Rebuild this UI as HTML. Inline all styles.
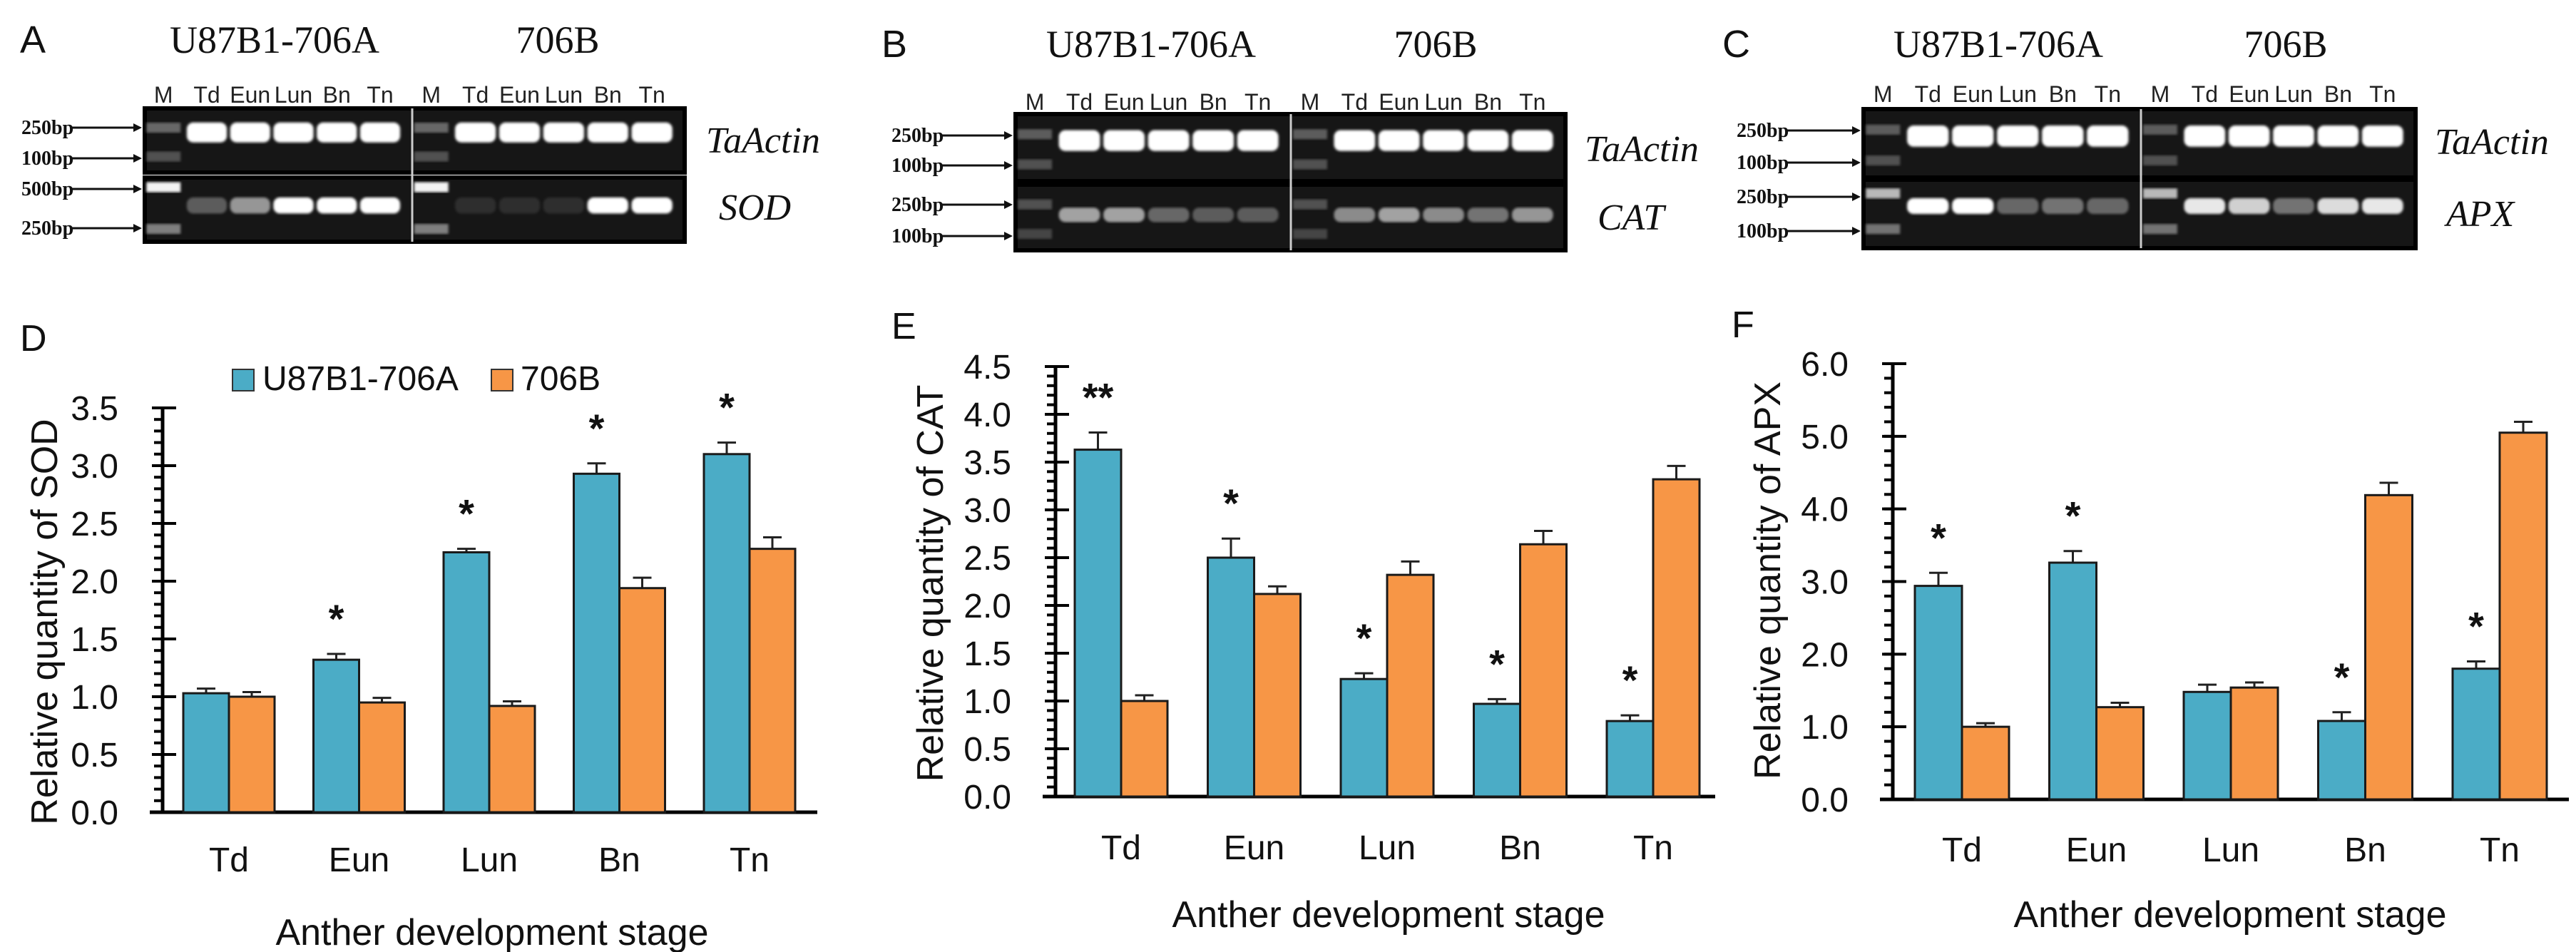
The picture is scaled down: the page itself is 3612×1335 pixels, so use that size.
<!DOCTYPE html>
<html><head><meta charset="utf-8">
<style>
html,body{margin:0;padding:0;background:#fff;}
svg{display:block;}
.sans{font-family:"Liberation Sans","DejaVu Sans",sans-serif;}
.serif{font-family:"Liberation Serif",serif;}
</style></head>
<body>
<svg id="fig" width="3612" height="1335" viewBox="0 0 3612 1335" xmlns="http://www.w3.org/2000/svg">
<defs>
<filter id="blur2"><feGaussianBlur stdDeviation="1.8"/></filter>
</defs>
</svg>
<script>
// ---- chart data ----
const categories = ["Td","Eun","Lun","Bn","Tn"];
const sodA = [1.03,1.32,2.25,2.93,3.10];
const sodAErr = [0.04,0.05,0.03,0.09,0.10];
const sodB = [1.00,0.95,0.92,1.94,2.28];
const sodBErr = [0.04,0.04,0.04,0.09,0.10];
const sodStars = ["","*","*","*","*"];
const sodTicks = ["0.0","0.5","1.0","1.5","2.0","2.5","3.0","3.5"];
const catA = [3.63,2.50,1.23,0.97,0.79];
const catAErr = [0.18,0.20,0.06,0.05,0.06];
const catB = [1.00,2.12,2.32,2.64,3.32];
const catBErr = [0.06,0.08,0.14,0.14,0.14];
const catStars = ["**","*","*","*","*"];
const catTicks = ["0.0","0.5","1.0","1.5","2.0","2.5","3.0","3.5","4.0","4.5"];
const apxA = [2.94,3.26,1.48,1.08,1.80];
const apxAErr = [0.18,0.16,0.10,0.12,0.10];
const apxB = [1.00,1.27,1.54,4.19,5.05];
const apxBErr = [0.05,0.06,0.07,0.17,0.15];
const apxStars = ["*","*","","*","*"];
const apxTicks = ["0.0","1.0","2.0","3.0","4.0","5.0","6.0"];
// gel band intensities (Td..Tn) for lower gels, per line
const sodLeft = [0.3,0.55,1,1,1];
const sodRight = [0.1,0.1,0.1,1,1];
const catLeft = [0.6,0.6,0.35,0.3,0.3];
const catRight = [0.5,0.6,0.5,0.4,0.55];
const apxLeft = [1,1,0.35,0.4,0.35];
const apxRight = [0.9,0.8,0.4,0.85,0.9];

const NS="http://www.w3.org/2000/svg";
const svg=document.getElementById('fig');
function mk(tag,attrs,parent){const e=document.createElementNS(NS,tag);for(const k in attrs)e.setAttribute(k,attrs[k]);(parent||svg).appendChild(e);return e;}
function txt(s,attrs,parent){const e=mk('text',attrs,parent);e.textContent=s;return e;}

const BLUE="#4bacc6", ORANGE="#f79646";

function chart(o){
  const g=mk('g',{});
  
  
  const yScale=v=>o.y0-(v/o.max)*(o.y0-o.yTop);
  const xCenter=i=>o.x1+i*o.step;
  const L=txt(o.letter,{x:o.lx,y:o.ly,'font-size':52,class:'sans',fill:'#111'},g);
  
  
  const ax=mk('g',{},g);
  
  
  mk('line',{x1:o.ax,y1:o.yTop,x2:o.ax,y2:o.y0+2,stroke:'#000','stroke-width':5},ax);
  const nMinor=Math.round(o.max/o.minor);
  for(let k=0;k<=nMinor;k++){
    const y=o.y0-k*(o.y0-o.yTop)/nMinor;
    mk('line',{x1:o.ax-12,y1:y,x2:o.ax,y2:y,stroke:'#000','stroke-width':4},ax);
  }
  o.ticks.forEach((t,k)=>{
    const y=o.y0-k*(o.y0-o.yTop)/(o.ticks.length-1);
    mk('line',{x1:o.ax-15,y1:y,x2:o.ax+19,y2:y,stroke:'#000','stroke-width':4},ax);
    const tl=txt(t,{x:o.ax-62,y:y+17,'font-size':48,'text-anchor':'end',class:'sans',fill:'#111'},ax);
    
    
  });
  const xa=mk('line',{x1:o.ax-18,y1:o.y0,x2:o.xEnd,y2:o.y0,stroke:'#000','stroke-width':5},g);
  
  
  const yt=txt(o.ytitle,{x:0,y:0,'font-size':52,'text-anchor':'middle',class:'sans',fill:'#111',transform:`translate(${o.ytx},${o.yty}) rotate(-90)`},g);
  
  
  const xt=txt('Anther development stage',{x:o.xtx,y:o.xty,'font-size':52,'text-anchor':'middle',class:'sans',fill:'#111'},g);
  
  
  categories.forEach((c,i)=>{
    const cx=xCenter(i);
    const series=[[o.a,o.aErr,BLUE,-1,'u87b1-706a'],[o.b,o.bErr,ORANGE,0,'706b']];
    series.forEach(([vals,errs,col,off,sn])=>{
      const x=cx+off*o.bw, top=yScale(vals[i]), et=yScale(vals[i]+errs[i]);
      const el=mk('line',{x1:x+o.bw/2,y1:top,x2:x+o.bw/2,y2:et,stroke:'#222','stroke-width':3},g);
      
      
      mk('line',{x1:x+o.bw/2-13,y1:et,x2:x+o.bw/2+13,y2:et,stroke:'#222','stroke-width':3},g);
      const r=mk('rect',{x:x,y:top,width:o.bw,height:o.y0-top,fill:col,stroke:'#1a1a1a','stroke-width':3},g);
      
      
    });
    if(o.stars[i]){
      const et=yScale(o.a[i]+o.aErr[i]);
      const st=txt(o.stars[i],{x:cx-o.bw/2,y:et-30,'font-size':56,'text-anchor':'middle',class:'sans','font-weight':'bold',fill:'#111'},g);
      
      
    }
    const cl=txt(c,{x:cx,y:o.cy,'font-size':48,'text-anchor':'middle',class:'sans',fill:'#111'},g);
    
    
  });
}

chart({name:'chart-sod',letter:'D',lx:28,ly:492,ax:228,y0:1139,yTop:572,max:3.5,minor:0.1,ticks:sodTicks,
  x1:321,step:182.5,bw:64,xEnd:1146,a:sodA,aErr:sodAErr,b:sodB,bErr:sodBErr,stars:sodStars,
  ytitle:'Relative quantity of SOD',ytx:80,yty:872,xtx:690,xty:1325,cy:1222});
chart({name:'chart-cat',letter:'E',lx:1250,ly:475,ax:1480,y0:1117,yTop:514,max:4.5,minor:0.1,ticks:catTicks,
  x1:1572,step:186.5,bw:65,xEnd:2405,a:catA,aErr:catAErr,b:catB,bErr:catBErr,stars:catStars,
  ytitle:'Relative quantity of CAT',ytx:1322,yty:818,xtx:1947,xty:1300,cy:1205});
chart({name:'chart-apx',letter:'F',lx:2428,ly:473,ax:2654,y0:1121,yTop:510,max:6.0,minor:0.2,ticks:apxTicks,
  x1:2751,step:188.5,bw:66,xEnd:3602,a:apxA,aErr:apxAErr,b:apxB,bErr:apxBErr,stars:apxStars,
  ytitle:'Relative quantity of APX',ytx:2496,yty:814,xtx:3127,xty:1300,cy:1208});

// legend (panel D)
const lg=mk('g',{});


const le1=mk('rect',{x:326,y:518,width:30,height:30,fill:BLUE,stroke:'#333','stroke-width':2},lg);


txt('U87B1-706A',{x:368,y:547,'font-size':48,class:'sans',fill:'#111'},lg);
const le2=mk('rect',{x:689,y:518,width:30,height:30,fill:ORANGE,stroke:'#333','stroke-width':2},lg);


txt('706B',{x:730,y:547,'font-size':48,class:'sans',fill:'#111'},lg);

// ---- gels ----
function gel(o){
  const g=mk('g',{});
  
  
  const L=txt(o.letter,{x:o.lx,y:o.ly,'font-size':54,class:'sans',fill:'#111'},g);
  
  
  const t1=txt('U87B1-706A',{x:o.t1x,y:o.ty,'font-size':54,'text-anchor':'middle',class:'serif',fill:'#111'},g);
  
  
  const t2=txt('706B',{x:o.t2x,y:o.ty,'font-size':54,'text-anchor':'middle',class:'serif',fill:'#111'},g);
  
  
  const halves=[[o.gx0,o.div],[o.div,o.gx1]];
  const lanes=['M','Td','Eun','Lun','Bn','Tn'];
  halves.forEach(([a,b],h)=>{
    const w=b-a;
    lanes.forEach((ln,i)=>{
      const cx=a+w*(0.07+i*0.162);
      const t=txt(ln,{x:cx,y:o.laneY,'font-size':32,'text-anchor':'middle',class:'sans',fill:'#222'},g);
      
      
    });
  });
  [[o.r1a,o.r1b],[o.r2a,o.r2b]].forEach(([ya,yb],row)=>{
    const r=mk('rect',{x:o.gx0,y:ya,width:o.gx1-o.gx0,height:yb-ya,fill:'#161616',stroke:'#000','stroke-width':6},g);
    
    
    halves.forEach(([a,b],h)=>{
      const w=b-a;
      const mx=a+w*0.07;
      const mks=row===0?o.m1:o.m2;
      mks.forEach(([fy,op])=>mk('rect',{x:mx-24,y:ya+(yb-ya)*fy-7,width:48,height:14,fill:'#fff',opacity:op,filter:'url(#blur2)'},g));
      for(let i=1;i<6;i++){
        const cx=a+w*(0.07+i*0.162);
        let inten, f0, f1;
        if(row===0){inten=1;f0=o.b1[0];f1=o.b1[1];}
        else{inten=(h===0?o.left:o.right)[i-1];f0=o.b2[0];f1=o.b2[1];}
        mk('rect',{x:cx-w*0.075,y:ya+(yb-ya)*f0,width:w*0.15,height:(yb-ya)*(f1-f0),rx:9,fill:'#fff',opacity:inten,filter:'url(#blur2)'},g);
      }
    });
  });
  mk('line',{x1:o.div,y1:o.r1a,x2:o.div,y2:o.r2b,stroke:'#ccc','stroke-width':3},g);
  o.marks.forEach(([lab,y])=>{
    const t=txt(lab,{x:o.mx,y:y+9,'font-size':28,class:'serif','font-weight':'bold',fill:'#111'},g);
    
    
    mk('line',{x1:o.mx+70,y1:y,x2:o.gx0-12,y2:y,stroke:'#111','stroke-width':3},g);
    mk('polygon',{points:`${o.gx0-4},${y} ${o.gx0-16},${y-6} ${o.gx0-16},${y+6}`,fill:'#111'},g);
  });
  const a1=txt('TaActin',{x:o.gnx,y:o.gn1y,'font-size':52,class:'serif','font-style':'italic',fill:'#111'},g);
  
  
  const a2=txt(o.gene,{x:o.gnx2,y:o.gn2y,'font-size':52,class:'serif','font-style':'italic',fill:'#111'},g);
  
  
}

gel({name:'gel-panel-a',letter:'A',lx:28,ly:74,t1x:385,t2x:782,ty:74,gx0:203,gx1:960,div:578,
  laneY:144,r1a:152,r1b:242,r2a:249,r2b:339,b1:[0.22,0.53],b2:[0.31,0.56],
  m1:[[0.3,0.35],[0.75,0.25]],m2:[[0.15,0.95],[0.8,0.45]],left:sodLeft,right:sodRight,
  marks:[['250bp',179],['100bp',222],['500bp',265],['250bp',320]],mx:30,
  gene:'SOD',gnx:990,gn1y:214,gnx2:1008,gn2y:308});
gel({name:'gel-panel-b',letter:'B',lx:1236,ly:80,t1x:1614,t2x:2013,ty:80,gx0:1424,gx1:2195,div:1810,
  laneY:154,r1a:160,r1b:254,r2a:259,r2b:351,b1:[0.24,0.55],b2:[0.35,0.57],
  m1:[[0.3,0.3],[0.75,0.25]],m2:[[0.3,0.25],[0.75,0.2]],left:catLeft,right:catRight,
  marks:[['250bp',190],['100bp',232],['250bp',287],['100bp',331]],mx:1250,
  gene:'CAT',gnx:2222,gn1y:226,gnx2:2240,gn2y:322});
gel({name:'gel-panel-c',letter:'C',lx:2415,ly:80,t1x:2802,t2x:3205,ty:80,gx0:2613,gx1:3387,div:3002,
  laneY:143,r1a:153,r1b:249,r2a:252,r2b:348,b1:[0.24,0.55],b2:[0.27,0.5],
  m1:[[0.3,0.3],[0.75,0.25]],m2:[[0.2,0.7],[0.72,0.4]],left:apxLeft,right:apxRight,
  marks:[['250bp',183],['100bp',228],['250bp',276],['100bp',324]],mx:2435,
  gene:'APX',gnx:3414,gn1y:216,gnx2:3430,gn2y:317});
</script>
</body></html>
